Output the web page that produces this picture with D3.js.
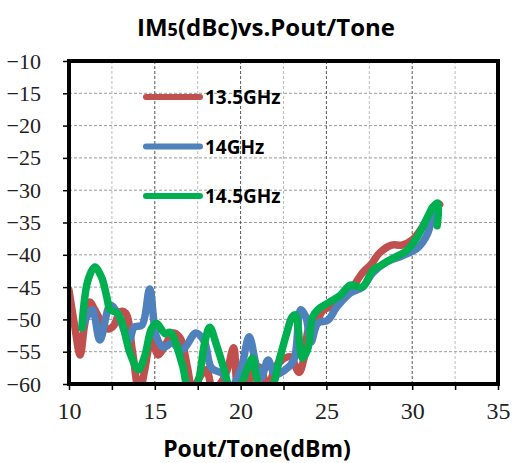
<!DOCTYPE html>
<html>
<head>
<meta charset="utf-8">
<script src="https://cdn.jsdelivr.net/npm/d3@7"></script>
<style>
  html, body { margin: 0; padding: 0; background: #fff; }
  svg { display: block; }
</style>
</head>
<body>
<svg id="chart" width="514" height="463"></svg>
<script>
const seriesNames = ["13.5GHz", "14GHz", "14.5GHz"];
const seriesColors = ["#C0504D", "#4F81BD", "#00B050"];

// [Pout/Tone dBm, IM5 dBc]
const red135 = [
  [10.0,-45.5],[10.3,-50.5],[10.65,-55.5],[10.9,-51],[11.2,-47.3],[11.5,-48.5],[11.9,-50.4],
  [12.3,-51.5],[12.6,-51],[13.0,-48.8],[13.3,-49],[13.7,-55],[14.1,-61.5],[14.4,-58],
  [14.8,-53.2],[15.2,-55.5],[15.5,-54.5],[16.1,-52.1],[16.5,-53],[16.9,-57.4],[17.2,-61],
  [17.6,-59],[18.0,-57.8],[18.4,-61],[18.8,-60],[19.2,-58],[19.6,-54.4],[19.9,-61],
  [20.3,-60.5],[20.8,-58],[21.1,-57.4],[21.6,-60.5],[22.0,-57.5],[22.4,-56.3],[22.9,-55.8],
  [23.4,-58.2],[23.7,-56],[24.0,-51.2],[24.4,-50.5],[24.8,-48.6],[25.2,-48.1],[25.7,-47.3],
  [26.4,-45.5],[27.1,-42.8],[27.6,-41.5],[28.1,-39.7],[28.8,-38.5],[29.4,-38.5],[30.0,-37.7],
  [30.6,-35.7],[31.2,-33.1],[31.6,-32.2]
];
const blue14 = [
  [10.75,-51.3],[11.35,-48.5],[11.8,-53.2],[12.4,-47.8],[12.8,-48.9],[13.5,-53.2],[13.8,-51.2],
  [14.25,-50.9],[14.7,-45.3],[15.1,-52.7],[15.5,-54.3],[16.0,-53.7],[16.6,-54.7],[17.4,-52.1],
  [17.9,-53.5],[18.3,-57.5],[19.0,-58.5],[19.4,-60.5],[20.0,-57.8],[20.5,-52.7],[20.9,-57],
  [21.2,-59],[21.6,-56.3],[22.0,-58.5],[22.6,-57.8],[23.1,-56.3],[23.5,-48.5],[23.8,-49.6],
  [24.1,-53.5],[24.5,-50.6],[25.1,-50.1],[25.6,-48.1],[26.4,-45.9],[27.1,-45.0],[27.7,-42.8],
  [28.5,-41.1],[29.3,-40.3],[29.9,-39.6],[30.3,-39.0],[30.9,-36.7],[31.2,-33.6],[31.5,-32.2]
];
const green145 = [
  [10.75,-51.3],[11.1,-44],[11.5,-41.9],[11.9,-43.5],[12.2,-46.5],[12.4,-48.5],[12.8,-49.0],
  [13.1,-50.6],[13.55,-55.2],[14.05,-57.8],[14.4,-55.8],[14.8,-51.5],[15.1,-50.6],[15.6,-52.2],
  [15.9,-52],[16.6,-57],[17.0,-61],[17.4,-60.5],[17.9,-53.7],[18.2,-51.2],[18.6,-54],
  [19.1,-58.3],[19.4,-61],[19.9,-60.5],[20.4,-57.6],[20.7,-56],[21.1,-60.5],[21.7,-61],
  [22.3,-55.8],[22.7,-52],[23.0,-49.6],[23.2,-49.3],[23.6,-56],[23.9,-54.7],[24.2,-49.6],
  [24.5,-48.5],[25.2,-47.3],[25.8,-46.3],[26.4,-44.7],[27.1,-45.0],[27.7,-42.4],[28.2,-41.6],
  [28.9,-40.5],[29.7,-39.3],[30.3,-37.2],[30.9,-34.1],[31.2,-32.6],[31.5,-32.0],[31.45,-35.5]
];
const allSeries = [red135, blue14, green145];

const xTicks = d3.range(10, 35.01, 2.5);
const yTicks = d3.range(-60, -9.99, 5);

const svg = d3.select("#chart");
const margin = { top: 61, right: 16, bottom: 79, left: 69 };
const W = 514, H = 463;
const width = W - margin.left - margin.right;
const height = H - margin.top - margin.bottom;

const x = d3.scaleLinear().domain([10, 35]).range([0, width]);
const y = d3.scaleLinear().domain([-60, -10]).range([height, 0]);

const g = svg.append("g").attr("transform", `translate(${margin.left},${margin.top})`);

svg.append("defs").append("clipPath").attr("id", "plotclip")
  .append("rect").attr("width", width).attr("height", height);

// Grid
g.append("g").selectAll("line.hg")
  .data(yTicks.filter(d => d > -60 && d < -10))
  .enter().append("line")
  .attr("x1", 0).attr("x2", width)
  .attr("y1", d => y(d)).attr("y2", d => y(d))
  .attr("stroke", "#9a9a9a").attr("stroke-width", 1).attr("stroke-dasharray", "3,2");

g.append("g").selectAll("line.vg")
  .data(xTicks.filter(d => d > 10 && d < 35))
  .enter().append("line")
  .attr("x1", d => x(d)).attr("x2", d => x(d))
  .attr("y1", 0).attr("y2", height)
  .attr("stroke", d => d % 5 === 0 ? "#555" : "#bdbdbd")
  .attr("stroke-width", 1).attr("stroke-dasharray", "3,2");

// Axes
const tickFont = "'Liberation Serif', 'DejaVu Serif', serif";
const xAxis = d3.axisBottom(x).tickValues(xTicks).tickSize(6).tickPadding(12)
  .tickFormat(d => d % 5 === 0 ? d : "");
const gx = g.append("g").attr("transform", `translate(0,${height})`).call(xAxis);
gx.select(".domain").remove();
gx.selectAll(".tick line").attr("stroke", "#000").attr("stroke-width", 1.5);
gx.selectAll(".tick text").style("font-family", tickFont).style("font-size", "24px").attr("fill", "#222");

const yAxis = d3.axisLeft(y).tickValues(yTicks).tickSize(6).tickPadding(22);
const gy = g.append("g").call(yAxis);
gy.select(".domain").remove();
gy.selectAll(".tick line").attr("stroke", "#000").attr("stroke-width", 1.5);
gy.selectAll(".tick text").style("font-family", tickFont).style("font-size", "22px").attr("fill", "#222");

// Lines
const line = d3.line()
  .x(d => x(d[0]))
  .y(d => y(d[1]))
  .curve(d3.curveCatmullRom.alpha(0.5));

g.append("g").attr("clip-path", "url(#plotclip)")
  .selectAll("path")
  .data(allSeries)
  .enter().append("path")
  .attr("d", line)
  .attr("fill", "none")
  .attr("stroke", (d, i) => seriesColors[i])
  .attr("stroke-width", 7.5)
  .attr("stroke-linejoin", "round")
  .attr("stroke-linecap", "round");

// Frame
g.append("rect").attr("width", width).attr("height", height)
  .attr("fill", "none").attr("stroke", "#000").attr("stroke-width", 4);

// Legend
const legend = svg.append("g").attr("transform", "translate(146,97)");
seriesNames.forEach((name, i) => {
  const row = legend.append("g").attr("transform", `translate(0,${i * 49.5})`);
  row.append("line").attr("x1", 0).attr("x2", 54).attr("y1", 0).attr("y2", 0)
    .attr("stroke", seriesColors[i]).attr("stroke-width", 6).attr("stroke-linecap", "round");
  row.append("text").attr("x", 59).attr("y", 7)
    .attr("font-family", "Open Sans, sans-serif").attr("font-weight", "bold")
    .attr("font-size", 19).attr("fill", "#000").text(name);
});

// Title
const title = svg.append("text").attr("x", 266).attr("y", 36).attr("text-anchor", "middle")
  .attr("font-family", "Open Sans, sans-serif").attr("font-weight", "bold")
  .attr("font-size", 24).attr("fill", "#000");
title.append("tspan").text("IM");
title.append("tspan").attr("font-size", 18).text("5");
title.append("tspan").text("(dBc)vs.Pout/Tone");

svg.append("text").attr("x", 257).attr("y", 457).attr("text-anchor", "middle")
  .attr("font-family", "Open Sans, sans-serif").attr("font-weight", "bold")
  .attr("font-size", 23).attr("fill", "#000").text("Pout/Tone(dBm)");
</script>
</body>
</html>
